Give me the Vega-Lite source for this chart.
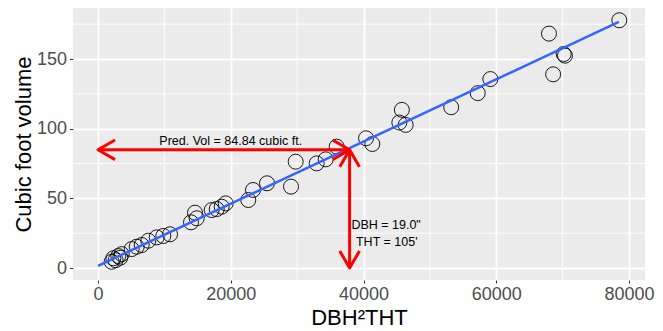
{
  "$schema": "https://vega.github.io/schema/vega-lite/v6.json",
  "width": 572,
  "height": 272,
  "autosize": {"type": "none"},
  "padding": {"left": 73, "top": 8, "right": 18, "bottom": 51},
  "background": "white",
  "view": {"fill": "#EBEBEB", "stroke": null},
  "config": {
    "font": "Liberation Sans",
    "axis": {
      "domain": false,
      "gridColor": "white",
      "gridWidth": 1.8,
      "tickColor": "#333333",
      "tickWidth": 1,
      "labelColor": "#4D4D4D",
      "labelFont": "Liberation Sans",
      "labelFontSize": 18,
      "titleFont": "Liberation Sans",
      "titleFontSize": 22,
      "titleFontWeight": "normal",
      "titleColor": "black",
      "labelFlush": false,
      "labelOverlap": false
    },
    "axisX": {"tickSize": 3, "labelPadding": 2, "titlePadding": 4},
    "axisY": {"tickSize": 3.5, "labelPadding": 3, "titlePadding": 1}
  },
  "datasets": {
    "trees": [
      {"x": 2060, "y": 4.5}, {"x": 2310, "y": 7.0}, {"x": 2650, "y": 5.6}, {"x": 3060, "y": 8.6},
      {"x": 3350, "y": 7.4}, {"x": 3570, "y": 10.0}, {"x": 5070, "y": 13.6}, {"x": 5830, "y": 15.3},
      {"x": 6580, "y": 16.5}, {"x": 7580, "y": 19.6}, {"x": 8840, "y": 22.0}, {"x": 9840, "y": 23.0},
      {"x": 10850, "y": 24.2}, {"x": 14010, "y": 32.8}, {"x": 14870, "y": 35.7}, {"x": 14610, "y": 39.7},
      {"x": 17125, "y": 41.6}, {"x": 17880, "y": 42.3}, {"x": 18630, "y": 44.0}, {"x": 19240, "y": 46.4},
      {"x": 22640, "y": 48.8}, {"x": 23350, "y": 56.0}, {"x": 25460, "y": 60.8}, {"x": 29075, "y": 58.4},
      {"x": 29780, "y": 76.3}, {"x": 32940, "y": 75.1}, {"x": 34300, "y": 78.0}, {"x": 35960, "y": 87.1},
      {"x": 40380, "y": 93.1}, {"x": 41330, "y": 89.0}, {"x": 45400, "y": 104.4}, {"x": 45780, "y": 113.5},
      {"x": 46350, "y": 102.7}, {"x": 53210, "y": 115.4}, {"x": 57210, "y": 125.5}, {"x": 59110, "y": 135.6},
      {"x": 67940, "y": 168.2}, {"x": 68570, "y": 139.0}, {"x": 70160, "y": 153.6}, {"x": 70350, "y": 152.4},
      {"x": 78540, "y": 177.8}
    ],
    "fit": [{"x": 0, "y": 1.6}, {"x": 78470, "y": 176.6}],
    "shafts": [
      {"x": 0, "y": 84.84, "x2": 37905, "y2": 84.84},
      {"x": 37905, "y": 84.84, "x2": 37905, "y2": 0}
    ],
    "heads": [
      {"x": 0, "y": 84.84, "dir": "left"},
      {"x": 37905, "y": 84.84, "dir": "right"},
      {"x": 37905, "y": 84.84, "dir": "up"},
      {"x": 37905, "y": 0, "dir": "down"}
    ],
    "labels": [
      {"x": 20000, "y": 91, "label": "Pred. Vol = 84.84 cubic ft."},
      {"x": 43400, "y": 31.2, "label": "DBH = 19.0\""},
      {"x": 43500, "y": 18.7, "label": "THT = 105'"}
    ],
    "minorX": [{"x": 10000}, {"x": 30000}, {"x": 50000}, {"x": 70000}],
    "minorY": [{"y": 25}, {"y": 75}, {"y": 125}, {"y": 175}]
  },
  "encoding": {
    "x": {
      "field": "x", "type": "quantitative",
      "scale": {"domain": [-3770, 82410], "nice": false, "zero": false},
      "axis": {"title": "DBH²THT", "values": [0, 20000, 40000, 60000, 80000], "format": "d"}
    },
    "y": {
      "field": "y", "type": "quantitative",
      "scale": {"domain": [-8.6, 186.6], "nice": false, "zero": false},
      "axis": {"title": "Cubic foot volume", "values": [0, 50, 100, 150]}
    }
  },
  "layer": [
    {
      "data": {"name": "minorX"},
      "mark": {"type": "rule", "color": "white", "strokeWidth": 0.9},
      "encoding": {"y": {"value": 0}, "y2": {"value": 272}}
    },
    {
      "data": {"name": "minorY"},
      "mark": {"type": "rule", "color": "white", "strokeWidth": 0.9},
      "encoding": {"x": {"value": 0}, "x2": {"value": 572}}
    },
    {
      "data": {"name": "trees"},
      "mark": {"type": "point", "shape": "circle", "filled": false, "size": 225, "color": "black", "strokeWidth": 0.9, "opacity": 1}
    },
    {
      "data": {"name": "fit"},
      "mark": {"type": "line", "color": "#3366FF", "strokeWidth": 2.5}
    },
    {
      "data": {"name": "shafts"},
      "mark": {"type": "rule", "color": "#FF0000", "strokeWidth": 3},
      "encoding": {"x2": {"field": "x2"}, "y2": {"field": "y2"}}
    },
    {
      "data": {"name": "heads"},
      "mark": {"type": "point", "filled": false, "size": 1156, "color": "#FF0000", "strokeWidth": 3, "opacity": 1, "strokeJoin": "round"},
      "encoding": {
        "shape": {
          "field": "dir", "type": "nominal", "legend": null,
          "scale": {
            "domain": ["left", "right", "up", "down"],
            "range": ["M1,-0.577L0,0L1,0.577", "M-1,-0.577L0,0L-1,0.577", "M-0.577,1L0,0L0.577,1", "M-0.577,-1L0,0L0.577,-1"]
          }
        }
      }
    },
    {
      "data": {"name": "labels"},
      "mark": {"type": "text", "fontSize": 12.5, "color": "black", "align": "center", "baseline": "middle", "font": "Liberation Sans"},
      "encoding": {"text": {"field": "label"}}
    }
  ]
}
